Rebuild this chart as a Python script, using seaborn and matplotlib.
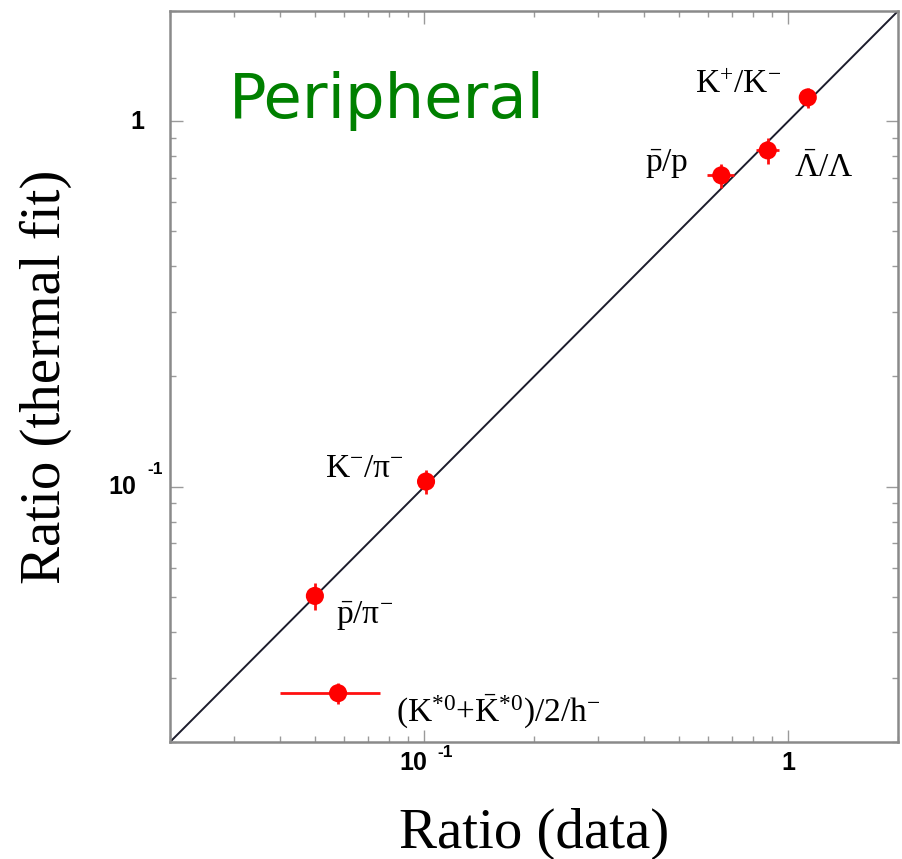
import matplotlib
matplotlib.use("Agg")
import matplotlib.pyplot as plt
import seaborn as sns
import pandas as pd
from matplotlib.ticker import FixedLocator, NullFormatter, LogLocator

# Particle ratios: measured value vs. thermal-model fit
ratio_names = [r"K$^{+}$/K$^{-}$",
               r"$\bar{\Lambda}$/Λ",
               r"$\bar{\mathrm{p}}$/p",
               r"K$^{-}$/π$^{-}$",
               r"$\bar{\mathrm{p}}$/π$^{-}$",
               r"(K$^{*0}$+$\bar{\mathrm{K}}^{*0}$)/2/h$^{-}$"]
ratio_data = [1.13, 0.877, 0.654, 0.101, 0.050, 0.0579]
ratio_fit = [1.16, 0.831, 0.710, 0.1032, 0.0502, 0.0272]
err_data = [0.0, 0.063, 0.056, 0.0, 0.0, 0.0177]
err_fit = [0.072, 0.066, 0.053, 0.0078, 0.0043, 0.0018]

# decade labels written as base + raised exponent
tick_values = [0.1, 1.0]
tick_base = ["10", "1"]
tick_exp = ["-1", ""]
axis_range = [0.02, 2.0]

df = pd.DataFrame({"name": ratio_names, "data": ratio_data, "fit": ratio_fit,
                   "xerr": err_data, "yerr": err_fit})

sns.set_theme(style="ticks")
plt.rcParams.update({
    "font.family": ["Liberation Serif", "DejaVu Serif"],
    "mathtext.fontset": "custom",
    "mathtext.rm": "Liberation Serif",
    "mathtext.it": "Liberation Serif:italic",
    "mathtext.bf": "Liberation Serif:bold",
    "text.color": "black",
    "axes.labelcolor": "black",
})

fig = plt.figure(figsize=(9.03, 8.59), dpi=100)
ax = fig.add_axes([0.1883, 0.1362, 0.8062, 0.8510])
ax.set_xscale("log")
ax.set_yscale("log")
ax.set_xlim(axis_range)
ax.set_ylim(axis_range)

# y = x reference line
ax.axline((tick_values[0], tick_values[0]), (tick_values[1], tick_values[1]),
          color="#1c1c2c", lw=1.4, zorder=1)

ax.errorbar(df["data"], df["fit"], xerr=df["xerr"], yerr=df["yerr"],
            fmt="none", ecolor="#ff1010", elinewidth=2.0, capsize=0, zorder=2)
sns.scatterplot(data=df, x="data", y="fit", ax=ax, color="#ff0000",
                s=170, edgecolor="none", linewidth=0, zorder=3, legend=False)

# text labels next to each point (offsets in points, alignment)
label_layout = [(-19, 3, "right"), (19, -19, "left"), (-24, 3.5, "right"),
                (-16, 3.4, "right"), (15, -19.5, "left"), (42, -20, "left")]
for (name, xd, yf), (dx, dy, ha) in zip(df[["name", "data", "fit"]].values, label_layout):
    ax.annotate(name, (xd, yf), xytext=(dx, dy), textcoords="offset points",
                ha=ha, va="baseline", fontsize=24, color="black")

ax.text(0.081, 0.854, "Peripheral", transform=ax.transAxes, fontsize=45,
        color="#008000", family="DejaVu Sans", ha="left", va="baseline")

# ticks: inward on all four sides, labels drawn separately
for axis in (ax.xaxis, ax.yaxis):
    axis.set_major_locator(FixedLocator(tick_values))
    axis.set_minor_locator(LogLocator(base=10, subs=range(2, 10)))
    axis.set_major_formatter(NullFormatter())
    axis.set_minor_formatter(NullFormatter())

ax.tick_params(which="both", direction="in", top=True, right=True,
               color="#9a9a9a", width=1.0)
ax.tick_params(which="major", length=9)
ax.tick_params(which="minor", length=4.5)
for sp in ax.spines.values():
    sp.set_color("#8a8a8a")
    sp.set_linewidth(1.8)

tick_font = dict(family="Liberation Sans", weight="bold", color="black")
base_size, exp_size = 18, 12.5
xtr = ax.get_xaxis_transform()
ytr = ax.get_yaxis_transform()
for v, base, exp in zip(tick_values, tick_base, tick_exp):
    if exp:
        ax.annotate(base, (v, 0), xycoords=xtr, xytext=(-8, -20),
                    textcoords="offset points", ha="center", va="baseline",
                    fontsize=base_size, **tick_font)
        ax.annotate(exp, (v, 0), xycoords=xtr, xytext=(9.5, -10.5),
                    textcoords="offset points", ha="left", va="baseline",
                    fontsize=exp_size, **tick_font)
        ax.annotate(base, (0, v), xycoords=ytr, xytext=(-24, -5.3),
                    textcoords="offset points", ha="right", va="baseline",
                    fontsize=base_size, **tick_font)
        ax.annotate(exp, (0, v), xycoords=ytr, xytext=(-16.6, 9),
                    textcoords="offset points", ha="left", va="baseline",
                    fontsize=exp_size, **tick_font)
    else:
        ax.annotate(base, (v, 0), xycoords=xtr, xytext=(0, -20),
                    textcoords="offset points", ha="center", va="baseline",
                    fontsize=base_size, **tick_font)
        ax.annotate(base, (0, v), xycoords=ytr, xytext=(-18.7, -6),
                    textcoords="offset points", ha="right", va="baseline",
                    fontsize=base_size, **tick_font)

ax.set_xlabel("Ratio (data)", fontsize=41)
ax.set_ylabel("Ratio (thermal fit)", fontsize=41)
ax.xaxis.set_label_coords(0.5, -0.09)
ax.yaxis.set_label_coords(-0.135, 0.5)

fig.savefig("out.png", dpi=100)
